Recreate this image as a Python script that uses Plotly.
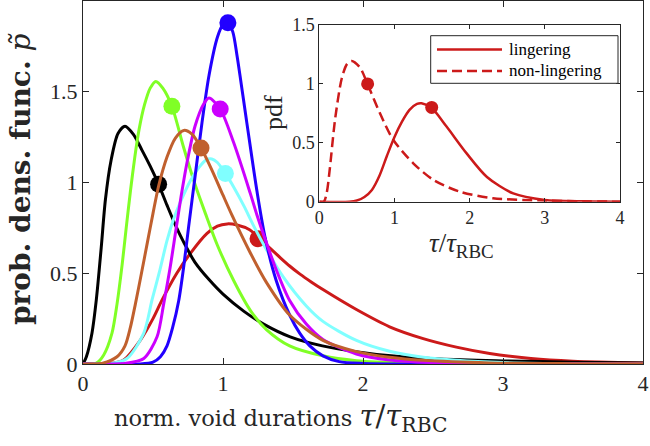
import plotly.graph_objects as go

# ---------------- data ----------------
black_x = [0, 0.024, 0.064, 0.095, 0.13, 0.16, 0.2, 0.25, 0.30, 0.36, 0.42, 0.48, 0.54, 0.60, 0.66, 0.72, 0.80, 0.90, 1.0, 1.15, 1.29, 1.48, 1.71, 1.95, 2.2, 2.55, 3.0, 3.5, 4.0]
black_y = [0, 0.04, 0.17, 0.353, 0.64, 0.905, 1.12, 1.27, 1.31, 1.265, 1.18, 1.09, 0.99, 0.875, 0.765, 0.67, 0.56, 0.465, 0.385, 0.29, 0.22, 0.15, 0.10, 0.068, 0.045, 0.027, 0.017, 0.01, 0.005]

green_x = [0, 0.095, 0.148, 0.207, 0.243, 0.28, 0.31, 0.34, 0.37, 0.40, 0.44, 0.48, 0.52, 0.57, 0.635, 0.72, 0.80, 0.874, 0.957, 1.076, 1.2, 1.31, 1.476, 1.714, 1.953, 2.3, 3.0, 4.0]
green_y = [0, 0.005, 0.05, 0.17, 0.33, 0.55, 0.76, 0.96, 1.14, 1.29, 1.43, 1.52, 1.557, 1.52, 1.42, 1.19, 0.99, 0.83, 0.66, 0.46, 0.29, 0.19, 0.10, 0.045, 0.018, 0.005, 0.001, 0]

brown_x = [0, 0.14, 0.243, 0.30, 0.338, 0.374, 0.42, 0.46, 0.50, 0.54, 0.60, 0.66, 0.72, 0.78, 0.843, 0.92, 1.0, 1.064, 1.19, 1.31, 1.476, 1.714, 1.953, 2.19, 2.43, 2.9, 3.5, 4.0]
brown_y = [0, 0.005, 0.04, 0.10, 0.20, 0.33, 0.51, 0.67, 0.83, 0.98, 1.14, 1.245, 1.287, 1.265, 1.19, 1.07, 0.93, 0.82, 0.62, 0.45, 0.27, 0.13, 0.068, 0.037, 0.02, 0.006, 0.002, 0.001]

cyan_x = [0, 0.2, 0.314, 0.434, 0.493, 0.55, 0.60, 0.648, 0.70, 0.767, 0.83, 0.88, 0.92, 0.96, 1.017, 1.08, 1.15, 1.22, 1.3, 1.43, 1.595, 1.714, 1.953, 2.19, 2.43, 2.67, 3.0, 3.5, 4.0]
cyan_y = [0, 0.002, 0.03, 0.17, 0.353, 0.52, 0.68, 0.80, 0.90, 1.01, 1.085, 1.125, 1.13, 1.11, 1.05, 0.97, 0.87, 0.76, 0.645, 0.48, 0.32, 0.235, 0.13, 0.07, 0.037, 0.02, 0.008, 0.002, 0.001]

magenta_x = [0, 0.3, 0.434, 0.529, 0.576, 0.62, 0.66, 0.70, 0.743, 0.80, 0.86, 0.90, 0.98, 1.076, 1.195, 1.243, 1.30, 1.38, 1.476, 1.595, 1.714, 1.953, 2.19, 2.6, 3.0, 4.0]
magenta_y = [0, 0.003, 0.03, 0.15, 0.33, 0.52, 0.72, 0.92, 1.11, 1.31, 1.43, 1.465, 1.405, 1.22, 0.94, 0.82, 0.69, 0.52, 0.35, 0.22, 0.135, 0.055, 0.022, 0.005, 0.001, 0]

blue_x = [0, 0.40, 0.50, 0.553, 0.60, 0.64, 0.684, 0.72, 0.755, 0.80, 0.85, 0.90, 0.96, 1.0, 1.035, 1.07, 1.10, 1.17, 1.243, 1.30, 1.38, 1.476, 1.548, 1.62, 1.714, 1.83, 2.0, 2.5, 4.0]
blue_y = [0, 0.0, 0.01, 0.04, 0.10, 0.20, 0.35, 0.54, 0.76, 1.03, 1.33, 1.59, 1.80, 1.87, 1.885, 1.83, 1.70, 1.33, 0.95, 0.70, 0.46, 0.27, 0.17, 0.10, 0.045, 0.013, 0.003, 0, 0]

red_x = [0, 0.2, 0.29, 0.41, 0.50, 0.565, 0.67, 0.767, 0.886, 0.96, 1.03, 1.10, 1.19, 1.25, 1.333, 1.41, 1.476, 1.55, 1.63, 1.714, 1.953, 2.19, 2.43, 2.667, 2.905, 3.2, 3.5, 4.0]
red_y = [0, 0.003, 0.022, 0.132, 0.25, 0.353, 0.50, 0.61, 0.72, 0.76, 0.772, 0.766, 0.74, 0.70, 0.64, 0.585, 0.54, 0.495, 0.452, 0.41, 0.30, 0.205, 0.14, 0.093, 0.058, 0.03, 0.015, 0.005]

# marker dots (x, y) per curve
dot_black = (0.54, 0.99)
dot_green = (0.635, 1.42)
dot_brown = (0.843, 1.19)
dot_cyan = (1.017, 1.05)
dot_magenta = (0.98, 1.405)
dot_blue = (1.035, 1.88)
dot_red = (1.25, 0.69)

# inset data
ling_x = [0, 0.4, 0.5, 0.6, 0.7, 0.8, 0.9, 1.0, 1.1, 1.2, 1.3, 1.36, 1.495, 1.69, 1.96, 2.23, 2.58, 3.0, 3.5, 4.0]
ling_y = [0, 0.0, 0.01, 0.04, 0.10, 0.22, 0.39, 0.55, 0.68, 0.78, 0.83, 0.835, 0.795, 0.64, 0.41, 0.21, 0.07, 0.015, 0.003, 0]
nonl_x = [0, 0.06, 0.10, 0.14, 0.21, 0.30, 0.37, 0.43, 0.54, 0.643, 0.807, 0.985, 1.25, 1.52, 1.87, 2.31, 3.0, 3.5, 4.0]
nonl_y = [0, 0.0, 0.08, 0.28, 0.70, 1.05, 1.17, 1.195, 1.14, 0.997, 0.75, 0.524, 0.326, 0.184, 0.085, 0.029, 0.01, 0.003, 0]
dot_ling = (1.495, 0.8)
dot_nonl = (0.643, 1.0)
legend_labels = ["lingering", "non-lingering"]

main_xticks = [0, 1, 2, 3, 4]
main_yticks = [0, 0.5, 1, 1.5]
inset_xticks = [0, 1, 2, 3, 4]
inset_yticks = [0, 0.5, 1, 1.5]

C_BLACK = "#000000"
C_GREEN = "#80FF26"
C_BROWN = "#C0602E"
C_CYAN = "#80FFFF"
C_MAGENTA = "#CC00FF"
C_BLUE = "#2200FF"
C_RED = "#CC1A1A"
AX = "#262626"
FONT = "Liberation Serif"
TFONT = "DejaVu Serif"
DASH = "10px,5px"

fig = go.Figure()

curves = [
    (red_x, red_y, C_RED, dot_red),
    (black_x, black_y, C_BLACK, dot_black),
    (green_x, green_y, C_GREEN, dot_green),
    (cyan_x, cyan_y, C_CYAN, dot_cyan),
    (blue_x, blue_y, C_BLUE, dot_blue),
    (magenta_x, magenta_y, C_MAGENTA, dot_magenta),
    (brown_x, brown_y, C_BROWN, dot_brown),
]
for xs, ys, col, dot in curves:
    fig.add_trace(go.Scatter(x=xs, y=ys, mode="lines", line=dict(color=col, width=3, shape="spline", smoothing=0.8),
                             showlegend=False, hoverinfo="skip", xaxis="x", yaxis="y"))
    fig.add_trace(go.Scatter(x=[dot[0]], y=[dot[1]], mode="markers", marker=dict(color=col, size=17),
                             showlegend=False, hoverinfo="skip", xaxis="x", yaxis="y"))

# inset
fig.add_trace(go.Scatter(x=ling_x, y=ling_y, mode="lines", name=legend_labels[0], showlegend=False,
                         line=dict(color=C_RED, width=2.5, shape="spline", smoothing=0.8),
                         xaxis="x2", yaxis="y2"))
fig.add_trace(go.Scatter(x=nonl_x, y=nonl_y, mode="lines", name=legend_labels[1], showlegend=False,
                         line=dict(color=C_RED, width=2.5, dash=DASH, shape="spline", smoothing=0.8),
                         xaxis="x2", yaxis="y2"))
fig.add_trace(go.Scatter(x=[dot_ling[0], dot_nonl[0]], y=[dot_ling[1], dot_nonl[1]], mode="markers",
                         marker=dict(color=C_RED, size=13), showlegend=False, xaxis="x2", yaxis="y2"))

L, R, T, B = 83, 7, 1, 82
W = 650 - L - R
H = 446 - T - B

def px2x(px):
    return (px - L) / W

def py2y(py):
    return (446 - B - py) / H

axis_common = dict(showline=True, linecolor=AX, linewidth=1, mirror="ticks", ticks="inside",
                   tickcolor=AX, showgrid=False, zeroline=False)

# hand-drawn legend box inside the inset (box, sample lines, labels)
leg_x0, leg_x1, leg_y0, leg_y1 = 430.7, 618, 35.7, 83.3
leg_rows = [49.5, 71]
shapes = [dict(type="rect", xref="paper", yref="paper", x0=px2x(leg_x0), x1=px2x(leg_x1),
               y0=py2y(leg_y1), y1=py2y(leg_y0), line=dict(color=AX, width=1), fillcolor="white", layer="above")]
annotations = []
for row, lab, dash in zip(leg_rows, legend_labels, ["solid", DASH]):
    shapes.append(dict(type="line", xref="paper", yref="paper", x0=px2x(437), x1=px2x(502),
                       y0=py2y(row), y1=py2y(row), line=dict(color=C_RED, width=2.5, dash=dash), layer="above"))
    annotations.append(dict(text=lab, xref="paper", yref="paper", x=px2x(507), y=py2y(row),
                            xanchor="left", yanchor="middle", showarrow=False,
                            font=dict(family=FONT, size=17, color="black")))

annotations += [
    dict(text="norm. void durations <span style='font-size:29px'><i>τ</i>/<i>τ</i><sub>RBC</sub></span>",
         xref="paper", yref="paper",
         x=px2x(280), y=py2y(418), xanchor="center", yanchor="middle", showarrow=False,
         font=dict(family=TFONT, size=22.5, color=AX)),
    dict(text="<b>prob. dens. func.</b> <i>p̃</i>", xref="paper", yref="paper",
         x=px2x(21), y=py2y(179), xanchor="center", yanchor="middle", textangle=-90, showarrow=False,
         font=dict(family=TFONT, size=28, color=AX)),
    dict(text="pdf", xref="paper", yref="paper", x=px2x(273), y=py2y(113), xanchor="center", yanchor="middle",
         textangle=-90, showarrow=False, font=dict(family=FONT, size=26, color=AX)),
    dict(text="<i>τ</i>/<i>τ</i><sub>RBC</sub>", xref="paper", yref="paper", x=px2x(461), y=py2y(245),
         xanchor="center", yanchor="middle", showarrow=False, font=dict(family=FONT, size=27, color=AX)),
]

fig.update_layout(
    width=650, height=446,
    margin=dict(l=L, r=R, t=T, b=B, autoexpand=False),
    paper_bgcolor="white", plot_bgcolor="white",
    font=dict(family=FONT, color=AX),
    showlegend=False,
    xaxis=dict(domain=[0, 1], range=[0, 4], tickvals=main_xticks, ticklen=6,
               tickfont=dict(family=FONT, size=22, color=AX), **axis_common),
    yaxis=dict(domain=[0, 1], range=[0, 2.0], tickvals=main_yticks, ticklen=6,
               ticktext=["0", "0.5", "1", "1.5"], tickfont=dict(family=FONT, size=22, color=AX), **axis_common),
    xaxis2=dict(domain=[px2x(319.3), px2x(620)], range=[0, 4], tickvals=inset_xticks, anchor="y2", ticklen=4,
                tickfont=dict(family=FONT, size=18, color=AX), **axis_common),
    yaxis2=dict(domain=[py2y(201.7), py2y(25)], range=[0, 1.5], tickvals=inset_yticks, anchor="x2", ticklen=4,
                ticktext=["0", "0.5", "1", "1.5"], tickfont=dict(family=FONT, size=18, color=AX), **axis_common),
    shapes=shapes,
    annotations=annotations,
)

fig.write_html("out.html", config={"displayModeBar": False},
               post_script="document.body.style.margin='0';document.body.style.overflow='hidden';")
